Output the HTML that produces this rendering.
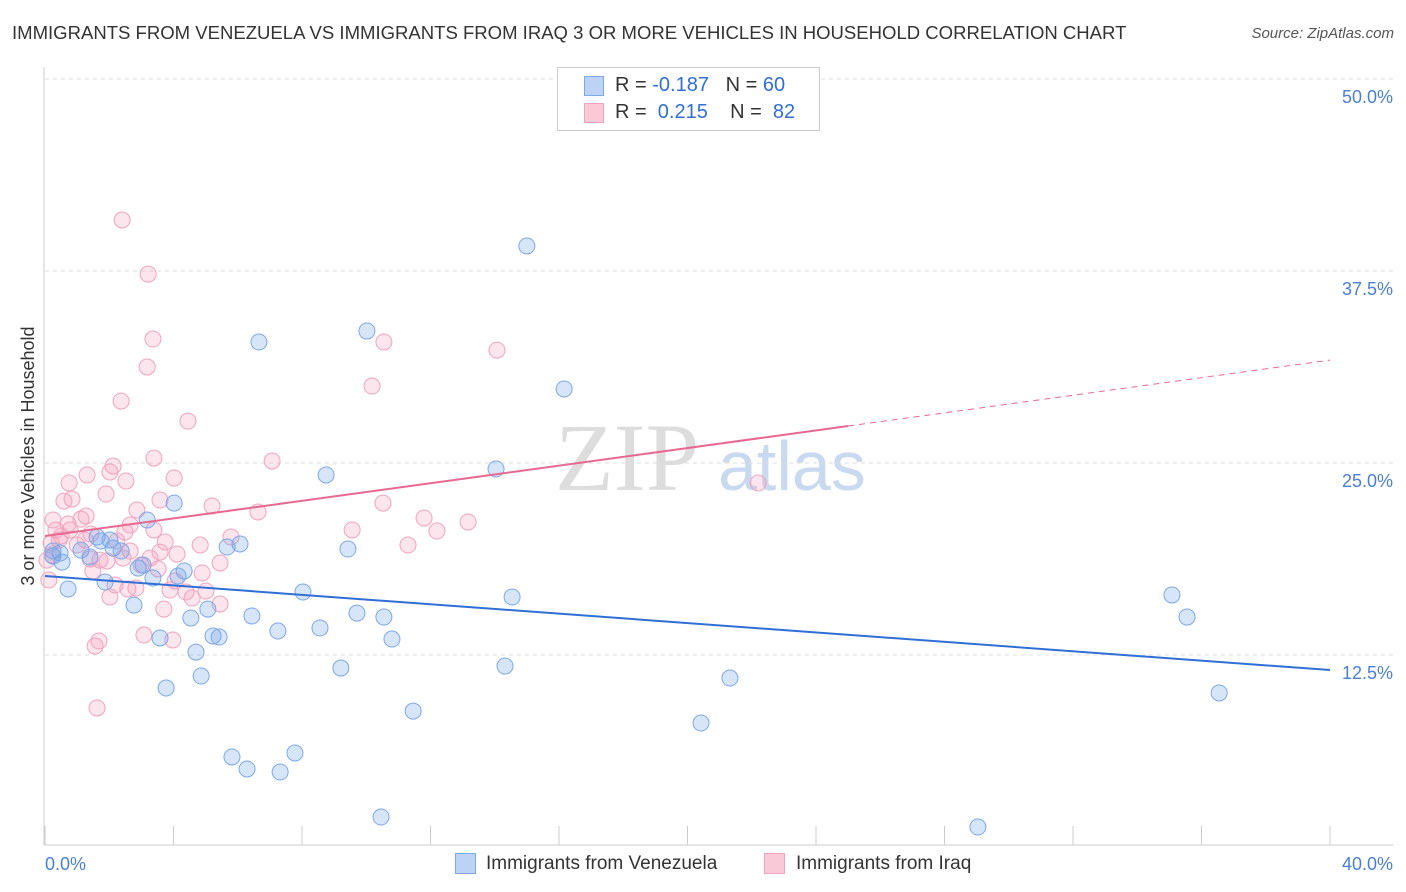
<!DOCTYPE html>
<html><head><meta charset="utf-8"><style>
body{margin:0;background:#fff;font-family:"Liberation Sans",sans-serif}
#wrap{position:relative;width:1406px;height:892px}
.t{position:absolute;white-space:nowrap}
</style></head><body><div id="wrap">
<div class="t" style="left:12px;top:22px;font-size:18.55px;color:#333">IMMIGRANTS FROM VENEZUELA VS IMMIGRANTS FROM IRAQ 3 OR MORE VEHICLES IN HOUSEHOLD CORRELATION CHART</div>
<div class="t" style="right:12px;top:25px;font-size:15px;color:#555;font-style:italic">Source: ZipAtlas.com</div>
<svg id="svg" width="1406" height="892" style="position:absolute;left:0;top:0"></svg>
</div>
<script>
const seriesNames=["Immigrants from Venezuela","Immigrants from Iraq"];
const yTicks=[12.5,25,37.5,50];
const yTickLabels=["12.5%","25.0%","37.5%","50.0%"];
const xTickLabels=["0.0%","40.0%"];
const blueX=[15.00,10.02,6.66,16.16,14.04,8.75,4.02,3.18,6.07,5.67,9.43,0.25,0.47,1.12,2.12,2.37,1.62,1.74,1.40,0.53,2.90,4.33,3.36,4.14,1.87,0.72,8.03,14.54,2.77,5.07,6.44,9.71,10.55,4.54,7.25,8.56,5.23,5.42,3.58,10.80,4.70,9.21,14.32,4.86,3.77,21.32,11.46,20.42,5.82,7.78,6.29,7.32,10.46,29.04,35.08,35.55,36.55,0.25,2.02,3.05];
const blueY=[39.13,33.59,32.88,29.82,24.61,24.22,22.39,21.29,19.73,19.53,19.40,19.27,19.14,19.33,19.46,19.27,20.18,19.92,18.88,18.55,18.16,17.97,17.51,17.64,17.25,16.80,16.60,16.28,15.75,15.49,15.04,15.23,14.97,14.91,14.06,14.26,13.74,13.67,13.61,13.54,12.69,11.65,11.78,11.13,10.35,11.00,8.85,8.07,5.86,6.12,5.08,4.88,1.95,1.30,16.41,14.97,10.03,18.94,19.99,18.36];
const pinkX=[2.40,3.21,3.36,10.55,14.07,3.18,10.18,2.37,4.45,3.39,7.07,2.12,2.02,4.02,1.31,2.52,0.75,1.90,0.59,0.84,5.20,10.52,2.86,6.63,1.28,1.12,0.72,11.80,13.17,9.56,12.20,3.39,2.49,0.34,5.79,0.50,1.43,2.24,1.00,3.74,11.30,0.44,0.19,2.65,3.58,4.11,1.40,1.93,3.27,5.45,2.43,2.99,3.52,1.49,4.89,4.05,2.58,4.39,2.83,3.89,4.58,5.01,5.45,3.70,2.02,0.12,3.08,3.98,1.68,1.56,1.62,22.20,0.22,0.78,2.18,0.06,1.25,0.25,4.83,2.65,1.71,3.58];
const pinkY=[40.82,37.30,33.07,32.88,32.35,31.25,30.01,29.03,27.73,25.32,25.13,24.80,24.41,24.02,24.22,23.83,23.70,22.98,22.52,22.65,22.20,22.39,21.94,21.81,21.55,21.35,21.03,21.42,21.16,20.64,20.57,20.64,20.51,20.64,20.18,20.25,20.38,19.92,19.66,19.86,19.66,19.99,19.79,19.27,19.20,19.07,18.75,18.62,18.81,18.49,18.81,18.36,18.10,17.97,17.84,17.32,16.80,16.60,16.86,16.73,16.21,16.67,15.82,15.49,16.28,17.38,13.80,13.48,13.41,13.09,9.05,23.70,19.01,20.64,17.06,18.68,19.99,21.29,19.66,20.96,18.68,22.59];
const blueLine=[17.64,11.52];
const pinkLine=[20.25,31.70];
const pinkSolidEnd=25.0;

const NS="http://www.w3.org/2000/svg",svg=document.getElementById('svg');
const X=v=>45+v/40*1285, Y=v=>847-v/12.5*192;
function mk(tag,at){const e=document.createElementNS(NS,tag);for(const k in at)e.setAttribute(k,at[k]);svg.appendChild(e);return e;}
let w=mk('text',{x:555,y:490,'font-size':96,fill:'#ddd','font-family':'Liberation Serif, serif'});w.textContent='ZIP';


w=mk('text',{x:718,y:490,'font-size':70,fill:'#c8d9f0','font-family':'Liberation Sans, sans-serif'});w.textContent='atlas';


yTicks.forEach((t,i)=>{let g=mk('line',{x1:45,x2:1393,y1:Y(t),y2:Y(t),stroke:'#ddd','stroke-dasharray':'4,4'});


let l=mk('text',{x:1393,y:Y(t)+24,'text-anchor':'end','font-size':18,fill:'#4a7fd6'});l.textContent=yTickLabels[i];

});
let ax=mk('line',{x1:44,x2:44,y1:67,y2:845,stroke:'#ccc'});


ax=mk('line',{x1:44,x2:1393,y1:845,y2:845,stroke:'#ccc'});


for(let i=0;i<=10;i++){let tk=mk('line',{x1:X(i*4),x2:X(i*4),y1:826,y2:845,stroke:'#ccc'});

}
xTickLabels.forEach((s,i)=>{let l=mk('text',{x:i?1393:45,y:870,'text-anchor':i?'end':'start','font-size':18,fill:'#4a7fd6'});l.textContent=s;

});
let yt=mk('text',{x:0,y:0,'font-size':18,fill:'#333','text-anchor':'middle',transform:'translate(34,456) rotate(-90)'});yt.textContent='3 or more Vehicles in Household';


function pts(xs,ys,fill,stroke,name){xs.forEach((x,i)=>{let c=mk('circle',{cx:X(x),cy:Y(ys[i]),r:8,fill:fill,stroke:stroke,'stroke-width':1});

});}
pts(pinkX,pinkY,'rgba(245,160,190,0.28)','#f0a4bd','point-iraq');
pts(blueX,blueY,'rgba(110,160,235,0.28)','#7ea8e6','point-venezuela');
let bl=mk('line',{x1:X(0),y1:Y(blueLine[0]),x2:X(40),y2:Y(blueLine[1]),stroke:'#2f6fd6','stroke-width':2});


const py=x=>pinkLine[0]+(pinkLine[1]-pinkLine[0])*x/40;
let pl=mk('line',{x1:X(0),y1:Y(py(0)),x2:X(pinkSolidEnd),y2:Y(py(pinkSolidEnd)),stroke:'#e8688f','stroke-width':2});


pl=mk('line',{x1:X(pinkSolidEnd),y1:Y(py(pinkSolidEnd)),x2:X(40),y2:Y(py(40)),stroke:'#e8688f','stroke-width':1,'stroke-dasharray':'6,5'});


</script>
<div class="t" style="left:557px;top:67px;width:261px;height:62px;border:1px solid #ccc;background:#fff"></div>
<div class="t" style="left:584px;top:76px;width:18px;height:18px;background:#bcd3f5;border:1px solid #7ea8e6"></div>
<div class="t" style="left:584px;top:103px;width:18px;height:18px;background:#f9c9d8;border:1px solid #f0a4bd"></div>
<div class="t" style="left:615px;top:74px;font-size:20px;color:#333">R = <span style="color:#2f6fd6">-0.187</span>&nbsp;&nbsp;&nbsp;N = <span style="color:#2f6fd6">60</span></div>
<div class="t" style="left:615px;top:101px;font-size:20px;color:#333">R = &nbsp;<span style="color:#2f6fd6">0.215</span>&nbsp;&nbsp;&nbsp;&nbsp;N = &nbsp;<span style="color:#2f6fd6">82</span></div>
<div class="t" style="left:455px;top:853px;width:19px;height:19px;background:#bcd3f5;border:1px solid #7ea8e6"></div>
<div class="t" style="left:486px;top:853px;font-size:19px;color:#333">Immigrants from Venezuela</div>
<div class="t" style="left:764px;top:853px;width:19px;height:19px;background:#f9c9d8;border:1px solid #f0a4bd"></div>
<div class="t" style="left:796px;top:853px;font-size:19px;color:#333">Immigrants from Iraq</div>
</body></html>
